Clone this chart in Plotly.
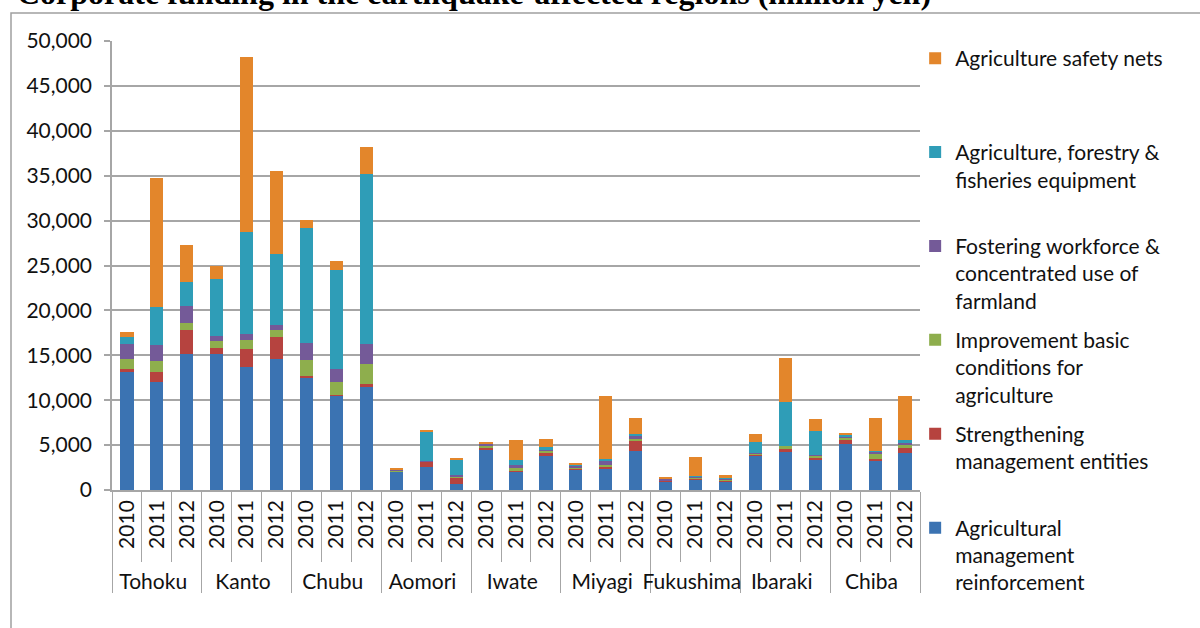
import plotly.graph_objects as go

regions = ["Tohoku", "Kanto", "Chubu", "Aomori", "Iwate", "Miyagi", "Fukushima", "Ibaraki", "Chiba"]
years = ["2010", "2011", "2012"]

# million yen, per region in 2010 / 2011 / 2012 order
mgmt_reinforcement = [13250, 12050, 15150, 15150, 13650, 14550, 12500, 10500, 11450,
                      2050, 2550, 700, 4550, 2100, 3800, 2300, 2300, 4350,
                      950, 1200, 950, 3800, 4250, 3350, 5150, 3250, 4100]
strengthening_entities = [200, 1100, 2650, 650, 2000, 2450, 200, 100, 350,
                          50, 600, 650, 150, 50, 350, 50, 300, 1100,
                          100, 50, 150, 100, 350, 250, 500, 150, 600]
basic_conditions = [1100, 1200, 850, 750, 1100, 800, 1800, 1450, 2200,
                    100, 50, 100, 200, 300, 200, 50, 200, 250,
                    50, 150, 50, 200, 300, 200, 150, 600, 350]
workforce_farmland = [1700, 1800, 1800, 650, 650, 550, 1850, 1400, 2250,
                      50, 50, 200, 250, 350, 100, 350, 400, 400,
                      150, 50, 150, 50, 50, 50, 200, 250, 150]
equipment = [750, 4200, 2750, 6250, 11350, 7900, 12800, 11100, 18950,
             50, 3250, 1700, 50, 550, 300, 50, 250, 100,
             50, 150, 50, 1250, 4850, 2700, 100, 50, 400]
safety_nets = [550, 14350, 4100, 1550, 19500, 9300, 950, 900, 3000,
               200, 200, 200, 150, 2200, 900, 250, 7000, 1850,
               50, 2100, 300, 850, 4850, 1350, 300, 3700, 4850]

# stacking order bottom -> top; legend lists them top -> bottom
series = [
    ("Agricultural<br>management<br>reinforcement", mgmt_reinforcement, "#3b73b2"),
    ("Strengthening<br>management entities<br> ", strengthening_entities, "#b6433f"),
    ("Improvement basic<br>conditions for<br>agriculture", basic_conditions, "#8eae4d"),
    ("Fostering workforce &<br>concentrated use of<br>farmland", workforce_farmland, "#745a98"),
    ("Agriculture, forestry &<br>fisheries equipment<br> ", equipment, "#2f9db7"),
    ("Agriculture safety nets<br> <br> ", safety_nets, "#e3862b"),
]

x_outer = [r for r in regions for _ in years]
x_inner = [y for _ in regions for y in years]

FONT = "Lato"
GRID = "#a6a6a6"

fig = go.Figure()
for i, (name, vals, color) in enumerate(series):
    fig.add_trace(go.Bar(
        x=[x_outer, x_inner], y=vals, name=name,
        marker=dict(color=color, line=dict(width=0)),
        legendgroup=f"g{i}", legendrank=len(series) - i,
    ))

L, R, T, B = 112, 920, 41, 490
W, H = 1200, 628

def px_x(p):
    return (p - L) / (R - L)

def px_y(p):
    return (B - p) / (B - T)

fig.update_layout(
    width=W, height=H,
    margin=dict(l=L, r=W - R, t=T, b=H - B),
    barmode="stack", bargap=0.56,
    plot_bgcolor="white", paper_bgcolor="white",
    font=dict(family=FONT, size=21, color="#111111"),
    showlegend=True,
    legend=dict(
        x=0.994, xanchor="left", y=px_y(38), yanchor="top",
        traceorder="grouped", tracegroupgap=9, maxheight=620,
        valign="top", font=dict(family=FONT, size=21, color="#111111"),
        bgcolor="rgba(0,0,0,0)",
    ),
    xaxis=dict(
        type="multicategory",
        tickangle=-90,
        showline=True, linecolor=GRID, linewidth=1.5,
        ticks="outside", tickson="boundaries", ticklen=70, tickcolor=GRID, tickwidth=1,
        showdividers=True, dividercolor=GRID, dividerwidth=1,
        tickfont=dict(family=FONT, size=21, color="#111111"),
        showgrid=False,
    ),
    yaxis=dict(
        range=[0, 50000], dtick=5000, tickformat=",d",
        showgrid=True, gridcolor=GRID, gridwidth=1.5,
        showline=True, linecolor=GRID, linewidth=1.5,
        ticks="outside", ticklen=6, tickcolor=GRID, tickwidth=1.5,
        ticklabelstandoff=8,
        tickfont=dict(family=FONT, size=21, color="#111111"),
        zeroline=False,
    ),
    shapes=[dict(
        type="rect", xref="paper", yref="paper",
        x0=px_x(11), x1=px_x(1215), y0=px_y(13), y1=px_y(660),
        line=dict(color="#a0a0a0", width=1.5), fillcolor="rgba(0,0,0,0)",
        layer="below",
    )],
    annotations=[dict(
        text="<b>Corporate funding in the earthquake-affected regions (million yen)</b>",
        xref="paper", yref="paper", x=px_x(15), y=px_y(13),
        xanchor="left", yanchor="bottom", showarrow=False,
        font=dict(family="Liberation Serif", size=32, color="#000000"),
    )],
)

fig.write_html("out.html")
